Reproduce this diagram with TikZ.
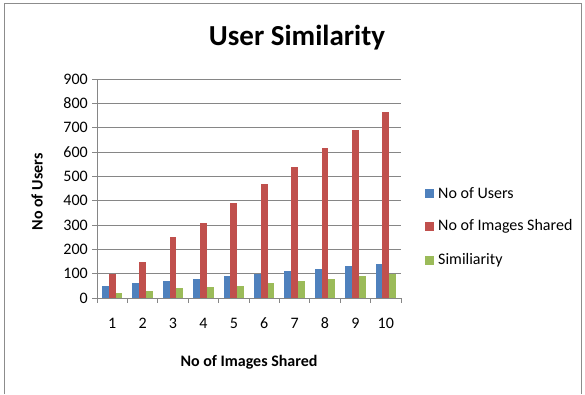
\documentclass[tikz,border=0pt]{standalone}
\usepackage{fontspec}
\setmainfont{Carlito}
\definecolor{cblue}{HTML}{4F81BD}
\definecolor{cred}{HTML}{C0504D}
\definecolor{cgreen}{HTML}{9BBB59}
\definecolor{grid}{HTML}{868686}
\definecolor{frame}{HTML}{8C8C8C}
\tikzset{
  gridline/.style={draw=grid, line width=0.9pt},
  ticklab/.style={font=\fontsize{16}{19}\selectfont, inner sep=0pt},
  axlab/.style={font=\bfseries\fontsize{16}{19}\selectfont, inner sep=0pt},
  legtext/.style={font=\fontsize{16}{19}\selectfont, inner sep=0pt, anchor=west},
  bar/.style={draw=none}
}
\begin{document}
\begin{tikzpicture}[x=1pt,y=-1pt]
\useasboundingbox (0,0) rectangle (585,394);
\draw[frame, line width=0.9pt] (4,394) -- (4,3) -- (581,3) -- (581,394);
\node[font=\bfseries\fontsize{29}{34}\selectfont, inner sep=0pt] (title) at (297,38) {User Similarity};
% plot area: origin (97,298), category width 30.4, 100 units = 24.33
\begin{scope}[shift={(97,298)}, x=30.4pt, y=0.2433pt]
  \foreach \v in {100,200,...,900} \draw[gridline] (0,\v) -- (10,\v);
  \foreach \v in {0,100,...,900} {
    \draw[gridline] (-5pt,\v) -- (0,\v);
    \node[ticklab, anchor=east] at ([xshift=-9pt]0,\v) {\v};
  }
  \foreach \i/\b/\r/\g in {1/50/100/20,2/60/150/30,3/70/250/40,4/80/310/45,5/90/390/50,6/100/470/60,7/110/540/70,8/120/615/80,9/130/690/90,10/140/765/100} {
    \fill[cblue] ({\i-1+0.1667},0) rectangle ({\i-1+0.3889},\b);
    \fill[cred] ({\i-1+0.3889},0) rectangle ({\i-1+0.6111},\r);
    \fill[cgreen] ({\i-1+0.6111},0) rectangle ({\i-1+0.8333},\g);
    \node[ticklab] at ({\i-0.5},0) [yshift=-25pt] {\i};
  }
  \draw[gridline] (0,0) -- (10,0);
  \draw[gridline] (0,0) -- (0,900);
  \foreach \i in {0,...,10} \draw[gridline] (\i,0) -- ([yshift=-5pt]\i,0);
\end{scope}
\node[axlab, rotate=90] (ylab) at (37,192) {No of Users};
\node[axlab] (xlab) at (249,362) {No of Images Shared};
% legend
\fill[cblue] (425,189) rectangle (434,198);
\node[legtext] (l1) at (438,193) {No of Users};
\fill[cred] (425,222) rectangle (434,231);
\node[legtext] (l2) at (438,226) {No of Images Shared};
\fill[cgreen] (425,256) rectangle (434,265);
\node[legtext] (l3) at (438,260) {Similiarity};
\end{tikzpicture}
\end{document}
